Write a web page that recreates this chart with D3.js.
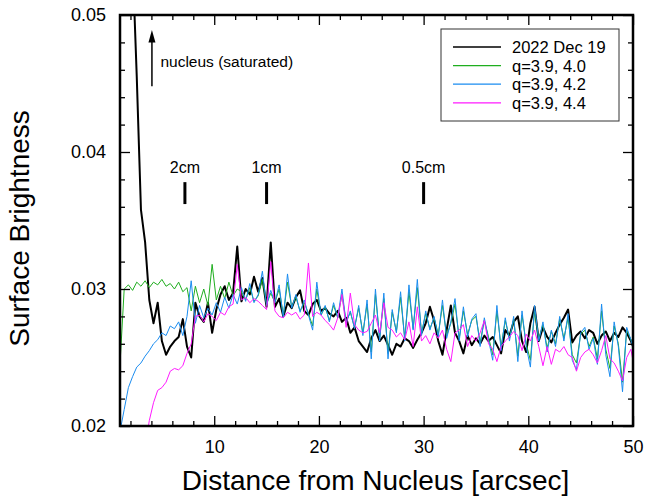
<!DOCTYPE html>
<html>
<head>
<meta charset="utf-8">
<script src="https://cdn.jsdelivr.net/npm/d3@7"></script>
<style>
  body { margin: 0; background: #fff; }
  svg { display: block; font-family: "Liberation Sans", Arial, Helvetica, sans-serif; }
</style>
</head>
<body>
<div id="chart"></div>
<script>
// radial profile, sampled every 0.4 arcsec from 1.0 to 50.2
const distance = d3.range(0, 124).map((i) => +(1 + 0.4 * i).toFixed(1));

const observed = [
  0.090, 0.078, 0.066, 0.054, 0.0455, 0.0358, 0.0334, 0.0292, 0.0275, 0.0290,
  0.0262, 0.0252, 0.0258, 0.0262, 0.0265, 0.0278, 0.0258, 0.0250, 0.0290, 0.0280,
  0.0276, 0.0290, 0.0268, 0.0285, 0.0296, 0.0302, 0.0292, 0.0297, 0.0331, 0.0291,
  0.0300, 0.0296, 0.0309, 0.0298, 0.0308, 0.0287, 0.0334, 0.0287, 0.0293, 0.0280,
  0.0290, 0.0286, 0.0294, 0.0299, 0.0284, 0.0281, 0.0289, 0.0292, 0.0284, 0.0286,
  0.0282, 0.0280, 0.0284, 0.0276, 0.0279, 0.0268, 0.0272, 0.0262, 0.0258, 0.0254,
  0.0264, 0.0270, 0.0262, 0.0266, 0.0259, 0.0252, 0.0260, 0.0258, 0.0264, 0.0262,
  0.0257, 0.0263, 0.0268, 0.0275, 0.0287, 0.0277, 0.0262, 0.0252, 0.0270, 0.0288,
  0.0268, 0.0262, 0.0253, 0.0266, 0.0259, 0.0264, 0.0260, 0.0266, 0.0262, 0.0265,
  0.0259, 0.0253, 0.0270, 0.0266, 0.0276, 0.0280, 0.0262, 0.0254, 0.0275, 0.0287,
  0.0262, 0.0272, 0.0265, 0.0261, 0.0268, 0.0274, 0.0279, 0.0285, 0.0261, 0.0266,
  0.0269, 0.0264, 0.0270, 0.0268, 0.0260, 0.0266, 0.0269, 0.0262, 0.0268, 0.0265,
  0.0272, 0.0268, 0.0262, 0.0254
];

const q40 = [
  0.0245, 0.0300, 0.0303, 0.0299, 0.0305, 0.0302, 0.0306, 0.0301, 0.0305, 0.0303,
  0.0307, 0.0302, 0.0304, 0.0300, 0.0305, 0.0298, 0.0301, 0.0284, 0.0302, 0.0290,
  0.0300, 0.0288, 0.0318, 0.0292, 0.0302, 0.0293, 0.0305, 0.0295, 0.0300, 0.0298,
  0.0292, 0.0301, 0.0291, 0.0295, 0.0307, 0.0289, 0.0297, 0.0290, 0.0300, 0.0281,
  0.0305, 0.0287, 0.0294, 0.0284, 0.0290, 0.0282, 0.0273, 0.0300, 0.0281, 0.0287,
  0.0277, 0.0288, 0.0279, 0.0296, 0.0276, 0.0283, 0.0272, 0.0286, 0.0268, 0.0289,
  0.0254, 0.0296, 0.0264, 0.0293, 0.0253, 0.0283, 0.0269, 0.0294, 0.0264, 0.0298,
  0.0271, 0.0301, 0.0268, 0.0282, 0.0271, 0.0279, 0.0267, 0.0288, 0.0266, 0.0275,
  0.0289, 0.0264, 0.0284, 0.0267, 0.0277, 0.0280, 0.0261, 0.0277, 0.0265, 0.0252,
  0.0284, 0.0258, 0.0277, 0.0264, 0.0278, 0.0251, 0.0281, 0.0260, 0.0248, 0.0284,
  0.0264, 0.0274, 0.0257, 0.0269, 0.0260, 0.0278, 0.0264, 0.0279, 0.0252, 0.0246,
  0.0267, 0.0270, 0.0258, 0.0265, 0.0249, 0.0284, 0.0256, 0.0242, 0.0273, 0.0260,
  0.0232, 0.0270, 0.0263, 0.0252
];

const q42 = [
  0.0196, 0.0212, 0.0228, 0.0236, 0.0243, 0.0246, 0.0251, 0.0255, 0.0260, 0.0263,
  0.0268, 0.0266, 0.0273, 0.0271, 0.0276, 0.0266, 0.0280, 0.0306, 0.0275, 0.0288,
  0.0279, 0.0286, 0.0281, 0.0290, 0.0283, 0.0294, 0.0286, 0.0296, 0.0289, 0.0301,
  0.0291, 0.0304, 0.0290, 0.0296, 0.0313, 0.0288, 0.0299, 0.0290, 0.0303, 0.0279,
  0.0311, 0.0286, 0.0296, 0.0283, 0.0292, 0.0281, 0.0270, 0.0305, 0.0281, 0.0288,
  0.0276, 0.0290, 0.0279, 0.0300, 0.0275, 0.0284, 0.0271, 0.0288, 0.0266, 0.0292,
  0.0249, 0.0300, 0.0262, 0.0297, 0.0249, 0.0285, 0.0268, 0.0298, 0.0262, 0.0303,
  0.0270, 0.0307, 0.0266, 0.0284, 0.0270, 0.0280, 0.0265, 0.0292, 0.0264, 0.0276,
  0.0293, 0.0262, 0.0287, 0.0265, 0.0278, 0.0282, 0.0258, 0.0279, 0.0263, 0.0248,
  0.0288, 0.0255, 0.0279, 0.0262, 0.0280, 0.0247, 0.0284, 0.0258, 0.0243, 0.0288,
  0.0262, 0.0276, 0.0254, 0.0270, 0.0258, 0.0280, 0.0262, 0.0282, 0.0248, 0.0241,
  0.0268, 0.0272, 0.0256, 0.0264, 0.0245, 0.0289, 0.0252, 0.0236, 0.0276, 0.0258,
  0.0225, 0.0272, 0.0263, 0.0250
];

const q44 = [
  null, null, null, null, null, null, 0.0185, 0.0204, 0.0217, 0.0226,
  0.0228, 0.0232, 0.0240, 0.0242, 0.0241, 0.0244, 0.0253, 0.0260, 0.0280, 0.0281,
  0.0276, 0.0282, 0.0280, 0.0277, 0.0283, 0.0281, 0.0287, 0.0289, 0.0318, 0.0292,
  0.0294, 0.0290, 0.0293, 0.0291, 0.0288, 0.0285, 0.0320, 0.0284, 0.0280, 0.0279,
  0.0283, 0.0281, 0.0283, 0.0278, 0.0281, 0.0319, 0.0280, 0.0283, 0.0281, 0.0277,
  0.0274, 0.0270, 0.0279, 0.0296, 0.0272, 0.0297, 0.0274, 0.0270, 0.0268, 0.0269,
  0.0275, 0.0281, 0.0268, 0.0290, 0.0272, 0.0270, 0.0265, 0.0268, 0.0263, 0.0276,
  0.0258, 0.0287, 0.0262, 0.0266, 0.0260, 0.0268, 0.0264, 0.0270, 0.0256, 0.0247,
  0.0268, 0.0270, 0.0274, 0.0258, 0.0266, 0.0262, 0.0268, 0.0277, 0.0260, 0.0256,
  0.0247, 0.0258, 0.0262, 0.0265, 0.0269, 0.0266, 0.0255, 0.0267, 0.0262, 0.0270,
  0.0258, 0.0244, 0.0258, 0.0245, 0.0256, 0.0254, 0.0258, 0.0252, 0.0250, 0.0240,
  0.0250, 0.0254, 0.0256, 0.0252, 0.0246, 0.0255, 0.0266, 0.0249, 0.0246, 0.0240,
  0.0233, 0.0250, 0.0256, 0.0239
];

const seriesNames = ["2022 Dec 19", "q=3.9, 4.0", "q=3.9, 4.2", "q=3.9, 4.4"];
const xTicks = [10, 20, 30, 40, 50];
const yTicks = [0.02, 0.03, 0.04, 0.05];
const sizeMarks = [
  { label: "2cm", at: 7.2 },
  { label: "1cm", at: 15 },
  { label: "0.5cm", at: 30 }
];

(function () {
  const width = 649;
  const height = 498;
  const margin = { top: 15, right: 16, bottom: 72, left: 120 };
  const innerW = width - margin.left - margin.right;
  const innerH = height - margin.top - margin.bottom;

  const svg = d3
    .select("#chart")
    .append("svg")
    .attr("width", width)
    .attr("height", height)
    .style("background", "#fff");

  const g = svg
    .append("g")
    .attr("transform", `translate(${margin.left},${margin.top})`);

  const x = d3.scaleLinear().domain([1, 50]).range([0, innerW]);
  const y = d3.scaleLinear().domain([0.02, 0.05]).range([innerH, 0]);

  // clip so the saturated nucleus and edges stay inside the frame
  svg
    .append("clipPath")
    .attr("id", "plot-clip")
    .append("rect")
    .attr("width", innerW)
    .attr("height", innerH);

  const series = [
    { name: seriesNames[0], values: observed, color: "#000000", w: 2 },
    { name: seriesNames[1], values: q40, color: "#1fae1f", w: 1 },
    { name: seriesNames[2], values: q42, color: "#1a8cf0", w: 1 },
    { name: seriesNames[3], values: q44, color: "#ff1aff", w: 1 }
  ];

  const line = d3
    .line()
    .defined((d) => d[1] != null)
    .x((d) => x(d[0]))
    .y((d) => y(d[1]));

  const lines = g.append("g").attr("clip-path", "url(#plot-clip)");
  series.forEach((s) => {
    lines
      .append("path")
      .datum(distance.map((d, i) => [d, s.values[i]]))
      .attr("fill", "none")
      .attr("stroke", s.color)
      .attr("stroke-width", s.w)
      .attr("stroke-linejoin", "round")
      .attr("d", line);
  });

  // axes: ticks pointing inwards on all four sides
  const xMinor = d3.range(2, 50, 2).filter((v) => v % 10 !== 0);
  const yMinor = d3.range(0.022, 0.05, 0.002).filter((v) => Math.abs(v * 100 - Math.round(v * 100)) > 1e-6);

  const styleAxis = (sel) => {
    sel.select(".domain").remove();
    sel.selectAll(".tick line").attr("stroke", "#000").attr("stroke-width", 1.3);
    sel.selectAll(".tick text").attr("font-size", "18px").attr("fill", "#000");
  };

  g.append("g")
    .attr("transform", `translate(0,${innerH})`)
    .call(d3.axisBottom(x).tickValues(xTicks).tickSize(-10).tickPadding(14))
    .call(styleAxis)
    .attr("font-family", null);
  g.append("g")
    .attr("transform", `translate(0,${innerH})`)
    .call(d3.axisBottom(x).tickValues(xMinor).tickSize(-5).tickFormat(""))
    .call(styleAxis);
  g.append("g")
    .call(d3.axisTop(x).tickValues(xTicks).tickSize(-10).tickFormat(""))
    .call(styleAxis);
  g.append("g")
    .call(d3.axisTop(x).tickValues(xMinor).tickSize(-5).tickFormat(""))
    .call(styleAxis);

  g.append("g")
    .call(d3.axisLeft(y).tickValues(yTicks).tickSize(-10).tickPadding(14).tickFormat(d3.format(".2f")))
    .call(styleAxis)
    .attr("font-family", null);
  g.append("g")
    .call(d3.axisLeft(y).tickValues(yMinor).tickSize(-5).tickFormat(""))
    .call(styleAxis);
  g.append("g")
    .attr("transform", `translate(${innerW},0)`)
    .call(d3.axisRight(y).tickValues(yTicks).tickSize(-10).tickFormat(""))
    .call(styleAxis);
  g.append("g")
    .attr("transform", `translate(${innerW},0)`)
    .call(d3.axisRight(y).tickValues(yMinor).tickSize(-5).tickFormat(""))
    .call(styleAxis);

  // frame
  g.append("rect")
    .attr("width", innerW)
    .attr("height", innerH)
    .attr("fill", "none")
    .attr("stroke", "#000")
    .attr("stroke-width", 2.5);

  // axis titles
  svg
    .append("text")
    .attr("x", margin.left + innerW / 2 - 1)
    .attr("y", 490)
    .attr("text-anchor", "middle")
    .attr("font-size", "28px")
    .text("Distance from Nucleus [arcsec]");

  svg
    .append("text")
    .attr("transform", `translate(29,${margin.top + innerH / 2 + 8}) rotate(-90)`)
    .attr("text-anchor", "middle")
    .attr("font-size", "28px")
    .text("Surface Brightness");

  // nucleus arrow
  const ax = x(4.05);
  g.append("line")
    .attr("x1", ax)
    .attr("x2", ax)
    .attr("y1", y(0.0448))
    .attr("y2", y(0.0484))
    .attr("stroke", "#000")
    .attr("stroke-width", 1.5);
  g.append("path")
    .attr("d", `M${ax},${y(0.0489)} L${ax - 3.5},${y(0.0480)} L${ax + 3.5},${y(0.0480)} Z`)
    .attr("fill", "#000");
  g.append("text")
    .attr("x", x(4.86))
    .attr("y", y(0.0462))
    .attr("font-size", "15.5px")
    .text("nucleus (saturated)");

  // grain size markers
  const marks = g.append("g").selectAll("g").data(sizeMarks).join("g");
  marks
    .append("line")
    .attr("x1", (d) => x(d.at))
    .attr("x2", (d) => x(d.at))
    .attr("y1", y(0.0378))
    .attr("y2", y(0.0362))
    .attr("stroke", "#000")
    .attr("stroke-width", 3);
  marks
    .append("text")
    .attr("x", (d) => x(d.at))
    .attr("y", y(0.03847))
    .attr("text-anchor", "middle")
    .attr("font-size", "16px")
    .text((d) => d.label);

  // legend
  const legend = svg.append("g").attr("transform", "translate(441,29)");
  legend
    .append("rect")
    .attr("width", 178)
    .attr("height", 92)
    .attr("fill", "#fff")
    .attr("stroke", "#333")
    .attr("stroke-width", 1);
  const items = legend
    .selectAll(".legend-item")
    .data(series)
    .join("g")
    .attr("class", "legend-item")
    .attr("transform", (d, i) => `translate(0,${18 + i * 18.6})`);
  items
    .append("line")
    .attr("x1", 12)
    .attr("x2", 60)
    .attr("stroke", (d) => d.color)
    .attr("stroke-width", (d) => (d.w > 1 ? 1.6 : 1.3));
  items
    .append("text")
    .attr("x", 71)
    .attr("y", 6)
    .attr("font-size", "16.5px")
    .text((d) => d.name);
})();
</script>
</body>
</html>
